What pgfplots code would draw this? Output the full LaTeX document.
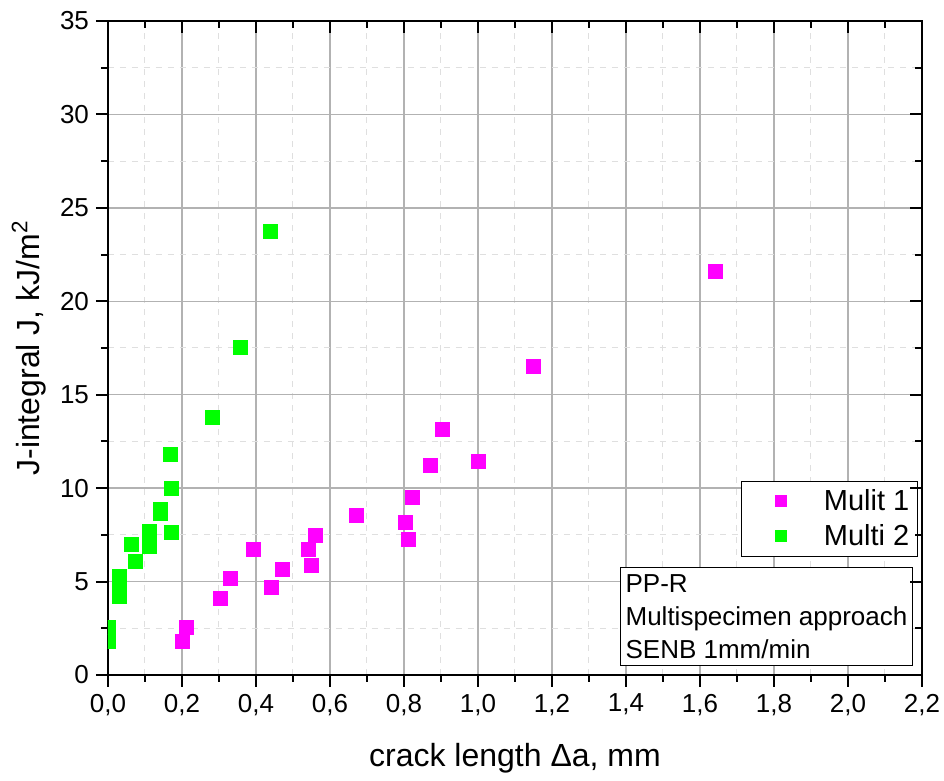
\documentclass[border=0pt]{standalone}
\usepackage{fontspec}
\setmainfont{Liberation Sans}
\usepackage{pgfplots}
\pgfplotsset{compat=1.18}

\definecolor{mag}{RGB}{255,0,255}
\definecolor{grn}{RGB}{0,255,0}

\begin{document}
\begin{tikzpicture}
\begin{axis}[
    name=main,
    width=407pt, height=327pt, scale only axis,
    xmin=0, xmax=2.2, ymin=0, ymax=35,
    xtick distance=0.2, ytick distance=5,
    minor x tick num=1, minor y tick num=1,
    grid=both,
    major grid style={draw=gray!60, line width=0.7pt},
    minor grid style={draw=gray!25, dashed, line width=0.5pt},
    axis line style={line width=1.4pt},
    tick style={black, line width=1pt},
    major tick length=6pt, minor tick length=3.5pt,
    tick align=outside,
    xtick pos=left, ytick pos=left,
    /pgf/number format/assume math mode=true,
    xticklabel style={/pgf/number format/.cd, use comma, fixed, fixed zerofill, precision=1},
    tick label style={font=\fontsize{13}{15}\selectfont},
    xlabel={crack length Δa, mm},
    ylabel={J-integral J, kJ/m\textsuperscript{2}},
    label style={font=\fontsize{16}{19}\selectfont},
    xlabel style={at={(axis description cs:0.5,0)}, anchor=base, yshift=-46pt},
    ylabel style={at={(axis description cs:0,0.5)}, anchor=base, yshift=34pt},
    clip marker paths=true,
    legend style={at={(0.995,0.297)}, anchor=north east, draw=black, line width=0.6pt,
        font=\fontsize{14.5}{17}\selectfont, row sep=1.5pt, inner xsep=2pt},
    legend cell align=left,
    legend image code/.code={\path (-0.23cm,0cm) (1.05cm,0cm);
        \draw[#1, mark size=2.7pt] plot coordinates {(0.38cm,0cm)};},
]
\addplot[only marks, mark=square*, mark size=3.5pt, color=mag] coordinates {
    (0.202,1.78) (0.212,2.55) (0.303,4.12) (0.332,5.17) (0.393,6.71)
    (0.442,4.71) (0.472,5.63) (0.542,6.72) (0.551,5.89) (0.561,7.47)
    (0.672,8.56) (0.803,8.17) (0.812,7.24) (0.822,9.52) (0.872,11.24)
    (0.903,13.14) (1.002,11.45) (1.151,16.53) (1.641,21.6)
};
\addlegendentry{Mulit 1}
\addplot[only marks, mark=square*, mark size=3.5pt, color=grn] coordinates {
    (0.0,1.78) (0.0,2.57) (0.032,4.23) (0.032,4.75) (0.032,5.26)
    (0.063,6.97) (0.073,6.1) (0.112,7.7) (0.112,6.87) (0.141,8.63)
    (0.141,8.88) (0.168,11.82) (0.172,10.0) (0.172,7.61) (0.281,13.8)
    (0.359,17.55) (0.44,23.75)
};
\addlegendentry{Multi 2}
\node[draw=black, line width=0.6pt, fill=white, anchor=north east, align=left,
    inner xsep=2.5pt, inner ysep=3.5pt, font=\fontsize{13}{16.5}\selectfont]
    at (rel axis cs:0.989,0.165) {PP-R\\Multispecimen approach\\SENB 1mm/min};
\end{axis}
\begin{axis}[
    width=407pt, height=327pt, scale only axis,
    xmin=0, xmax=2.2, ymin=0, ymax=35,
    xtick distance=0.2, ytick distance=5,
    minor x tick num=1, minor y tick num=1,
    axis line style={draw=none},
    tick style={black, line width=1pt},
    major tick length=6pt, minor tick length=3.5pt,
    tick align=inside,
    xtick pos=right, ytick pos=right,
    xticklabels={}, yticklabels={},
    ticklabel style={inner sep=0pt},
]
\end{axis}
\pgfresetboundingbox
\path (main.south west) ++(-54pt,-53pt) rectangle ++(472pt,390.5pt);
\end{tikzpicture}
\end{document}
